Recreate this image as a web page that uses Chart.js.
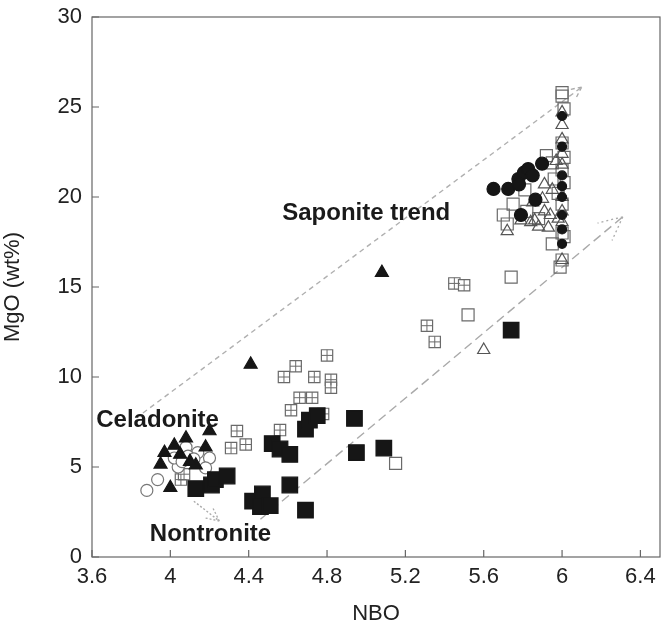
<!DOCTYPE html>
<html>
<head>
<meta charset="utf-8">
<script src="https://cdn.jsdelivr.net/npm/chart.js@4.4.1/dist/chart.umd.min.js"></script>
<style>
  html, body { margin: 0; padding: 0; background: #fff; overflow: hidden; }
  #wrap { width: 663px; height: 631px; }
  canvas { display: block; }
</style>
</head>
<body>
<div id="wrap"><canvas id="chart" width="663" height="631"></canvas></div>
<script>
// axis ticks
const xTicks = [3.6, 4, 4.4, 4.8, 5.2, 5.6, 6, 6.4];
const yTicks = [0, 5, 10, 15, 20, 25, 30];

// filled triangles
const ftX = [5.08, 4.41, 4.2, 4.08, 4.02, 3.97, 3.95, 4.0, 4.05, 4.13, 4.18, 4.1];
const ftY = [15.8, 10.7, 7.0, 6.6, 6.2, 5.8, 5.15, 3.85, 5.7, 5.1, 6.1, 5.3];

// open circles
const ocX = [3.88, 3.935, 4.04, 4.08, 4.14, 4.2, 4.09, 4.12, 4.18, 4.02, 4.06];
const ocY = [3.7, 4.3, 5.0, 6.1, 5.8, 5.5, 5.6, 5.45, 4.95, 5.5, 5.3];

// crossed squares
const csX = [4.34, 4.31, 4.385, 4.054, 4.56, 4.616, 4.58, 4.64, 4.735, 4.66, 4.724, 4.8, 4.82, 4.82, 4.78, 5.31, 5.35, 5.45, 5.5, 4.07];
const csY = [7.0, 6.05, 6.25, 4.3, 7.05, 8.15, 10.0, 10.6, 10.0, 8.85, 8.85, 11.2, 9.85, 9.4, 7.95, 12.85, 11.95, 15.2, 15.1, 4.6];

// filled squares
const fsX = [4.13, 4.21, 4.23, 4.29, 4.42, 4.47, 4.46, 4.51, 4.52, 4.56, 4.61, 4.61, 4.69, 4.69, 4.71, 4.75, 4.94, 4.95, 5.09, 5.74];
const fsY = [3.8, 4.0, 4.3, 4.5, 3.1, 3.5, 2.8, 2.85, 6.3, 6.0, 5.7, 4.0, 2.6, 7.1, 7.6, 7.85, 7.7, 5.8, 6.05, 12.6];

// open squares
const osX = [5.15, 5.52, 5.74, 5.7, 5.72, 5.75, 5.81, 5.92, 5.95, 5.95, 5.82, 5.96, 5.88, 5.98, 6.0, 6.0, 6.01, 6.0, 6.01, 6.0, 6.01, 6.0, 6.0, 6.01, 6.0, 5.99];
const osY = [5.2, 13.45, 15.55, 19.0, 18.5, 19.6, 20.4, 22.3, 21.9, 17.4, 19.2, 21.0, 18.8, 20.2, 25.8, 25.6, 24.9, 23.0, 22.2, 21.5, 20.8, 19.6, 18.0, 17.8, 16.5, 16.1];

// open triangles
const otX = [5.6, 5.72, 5.79, 5.86, 5.91, 5.9, 5.85, 5.95, 5.91, 5.94, 5.98, 5.84, 5.88, 6.0, 6.0, 6.0, 6.0, 6.0, 6.0, 6.0, 6.0, 6.0, 5.97, 5.93];
const otY = [11.5, 18.1, 18.7, 18.7, 19.2, 19.9, 19.7, 20.4, 20.7, 19.0, 18.8, 18.6, 18.35, 24.7, 24.0, 23.2, 22.4, 21.8, 20.0, 19.2, 18.6, 16.5, 22.0, 18.3];

// filled circles
const fcX = [5.65, 5.725, 5.777, 5.805, 5.827, 5.85, 5.78, 5.898, 5.864, 5.79];
const fcY = [20.45, 20.45, 21.0, 21.35, 21.55, 21.2, 20.7, 21.85, 19.85, 19.0];
const fcColX = [6.0, 6.0, 6.0, 6.0, 6.0, 6.0, 6.0, 6.0];
const fcColY = [24.5, 22.8, 21.2, 20.6, 20.0, 19.0, 18.2, 17.4];

// trend arrows
const upperX = [3.86, 6.1];
const upperY = [8.0, 26.1];
const lowerX = [4.46, 6.31];
const lowerY = [2.1, 18.9];
const nontX = [4.12, 4.25];
const nontY = [3.1, 2.0];

// text labels
const labelText = ['Saponite trend', 'Celadonite', 'Nontronite'];
const labelX = [5.0, 3.935, 4.205];
const labelY = [19.1, 7.6, 1.25];

const FONT = '"Liberation Sans", Arial, sans-serif';
const pts = (xs, ys) => xs.map((x, i) => ({ x, y: ys[i] }));

function markers(xs, ys, style, r, fill, stroke, order, bw) {
    return {
        data: pts(xs, ys), pointStyle: style, pointRadius: r, pointHoverRadius: r,
        backgroundColor: fill, borderColor: stroke, pointBorderWidth: bw || 1.2, showLine: false, order
    };
}

function trend(xs, ys, dash, color) {
    return {
        type: 'line', data: pts(xs, ys), showLine: true, pointRadius: 0, borderColor: color,
        borderWidth: 1.4, borderDash: dash, fill: false, order: 20
    };
}

const frame = {
    id: 'frame',
    afterLayout(chart) {
        // stretch the plot box to the right edge like the original figure
        const x = chart.scales.x;
        const right = chart.width - 3;
        x.right = right;
        x.width = right - x.left;
        x.configure();
        chart.chartArea.right = right;
        chart.chartArea.width = right - chart.chartArea.left;
    },
    afterDraw(chart) {
        const { ctx, chartArea: a, scales: { x, y } } = chart;
        ctx.save();
        ctx.strokeStyle = '#666';
        ctx.lineWidth = 1.2;
        ctx.strokeRect(a.left, a.top, a.right - a.left, a.bottom - a.top);
        ctx.beginPath();
        xTicks.forEach(v => { const p = x.getPixelForValue(v); ctx.moveTo(p, a.bottom); ctx.lineTo(p, a.bottom - 7); });
        yTicks.forEach(v => { const p = y.getPixelForValue(v); ctx.moveTo(a.left, p); ctx.lineTo(a.left + 7, p); });
        ctx.stroke();

        // arrow heads
        const head = (xs, ys, len, dash, color) => {
            const x1 = x.getPixelForValue(xs[xs.length - 2]), y1 = y.getPixelForValue(ys[ys.length - 2]);
            const x2 = x.getPixelForValue(xs[xs.length - 1]), y2 = y.getPixelForValue(ys[ys.length - 1]);
            const ang = Math.atan2(y2 - y1, x2 - x1);
            ctx.strokeStyle = color; ctx.setLineDash(dash); ctx.lineWidth = 1.3;
            ctx.beginPath();
            [0.45, -0.45].forEach(d => {
                ctx.moveTo(x2, y2);
                ctx.lineTo(x2 - len * Math.cos(ang + d), y2 - len * Math.sin(ang + d));
            });
            ctx.stroke();
        };
        head(upperX, upperY, 14, [4, 3], '#aaa');
        head(lowerX, lowerY, 26, [2, 3], '#aaa');
        head(nontX, nontY, 14, [2, 2], '#aaa');
        ctx.setLineDash([]);

        ctx.fillStyle = '#1a1a1a';
        ctx.font = 'bold 24px ' + FONT;
        ctx.textAlign = 'center';
        ctx.textBaseline = 'middle';
        labelText.forEach((t, i) => ctx.fillText(t, x.getPixelForValue(labelX[i]), y.getPixelForValue(labelY[i])));
        ctx.restore();
    }
};

const gray = '#6a6a6a';
const black = '#161616';

new Chart(document.getElementById('chart'), {
    type: 'scatter',
    data: {
        datasets: [
            trend(upperX, upperY, [5, 4], '#b0b0b0'),
            trend(lowerX, lowerY, [9, 5], '#aaa'),
            trend(nontX, nontY, [2, 2], '#aaa'),
            markers(csX, csY, 'rect', 8, '#fff', gray, 9),
            markers(csX, csY, 'cross', 5.7, gray, gray, 8, 1),
            markers(ocX, ocY, 'circle', 6, '#fff', '#777', 7),
            markers(ftX, ftY, 'triangle', 7.5, black, black, 6),
            markers(osX, osY, 'rect', 8.5, 'rgba(255,255,255,0)', gray, 5),
            markers(otX, otY, 'triangle', 7, 'rgba(255,255,255,0)', '#555', 4),
            markers(fsX, fsY, 'rect', 11, black, black, 3),
            markers(fcX, fcY, 'circle', 6.5, black, black, 2),
            markers(fcColX, fcColY, 'circle', 4.5, black, black, 1)
        ]
    },
    options: {
        responsive: false,
        animation: false,
        events: [],
        layout: { padding: { top: 17, right: 3, left: 0, bottom: 0 } },
        plugins: { legend: { display: false }, tooltip: { enabled: false } },
        scales: {
            x: {
                type: 'linear', min: 3.6, max: 6.5,
                grid: { display: false, drawTicks: false },
                border: { display: false },
                afterBuildTicks: s => { s.ticks = xTicks.map(v => ({ value: v })); },
                afterFit: s => { s.height = 74; s.paddingLeft = 0; s.paddingRight = 0; },
                ticks: { color: '#222', font: { size: 22, family: FONT }, padding: 7, maxRotation: 0, callback: v => String(v) },
                title: { display: true, text: 'NBO', color: '#222', font: { size: 22, family: FONT }, padding: { top: 2 } }
            },
            y: {
                type: 'linear', min: 0, max: 30,
                grid: { display: false, drawTicks: false },
                border: { display: false },
                afterBuildTicks: s => { s.ticks = yTicks.map(v => ({ value: v })); },
                afterFit: s => { s.width = 92; s.paddingTop = 0; s.paddingBottom = 0; },
                ticks: { color: '#222', font: { size: 22, family: FONT }, padding: 10 },
                title: { display: true, text: 'MgO (wt%)', color: '#222', font: { size: 22, family: FONT }, padding: 0 }
            }
        }
    },
    plugins: [frame]
});
</script>
</body>
</html>
